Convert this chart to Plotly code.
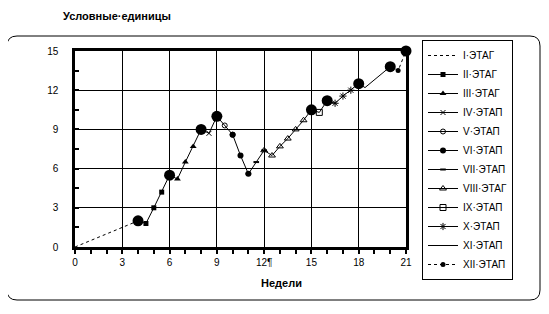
import plotly.graph_objects as go

# ---------------- data ----------------
stage_names = ["I·ЭТАГ", "II·ЭТАГ", "III·ЭТАГ", "IV·ЭТАП", "V·ЭТАП", "VI·ЭТАП",
               "VII·ЭТАП", "VIII·ЭТАГ", "IX·ЭТАП", "X·ЭТАП", "XI·ЭТАП", "XII·ЭТАП"]

s1_x = [0, 4];                      s1_y = [0, 2]
s2_x = [4, 4.5, 5, 5.5, 6];         s2_y = [2, 1.8, 3, 4.2, 5.5]
s3_x = [6, 6.5, 7, 7.5, 8];         s3_y = [5.5, 5.2, 6.5, 7.7, 9]
s4_x = [8, 8.5, 9];                 s4_y = [9, 8.7, 10]
s5_x = [9, 9.5, 10];                s5_y = [10, 9.3, 8.6]
s6_x = [10, 10.5, 11];              s6_y = [8.6, 7.0, 5.6]
s7_x = [11, 11.5, 12];              s7_y = [5.6, 6.5, 7.4]
s8_x = [12, 12.5, 13, 13.5, 14, 14.5, 15]
s8_y = [7.4, 7.0, 7.7, 8.3, 9.0, 9.7, 10.5]
s9_x = [15, 15.5, 16];              s9_y = [10.5, 10.3, 11.2]
s10_x = [16, 16.5, 17, 17.5, 18];   s10_y = [11.2, 11.0, 11.55, 12.0, 12.5]
s11_x = [18, 18.4, 20];             s11_y = [12.5, 12.2, 13.8]
s12_x = [20, 20.5, 21];             s12_y = [13.8, 13.5, 15]

milestone_x = [4, 6, 8, 9, 15, 16, 18, 20, 21]
milestone_y = [2, 5.5, 9, 10, 10.5, 11.2, 12.5, 13.8, 15]

x_tick_vals = [0, 3, 6, 9, 12, 15, 18, 21]
x_tick_text = ["0", "3", "6", "9", "12¶", "15", "18", "21"]
y_tick_vals = [0, 3, 6, 9, 12, 15]

# ---------------- styles ----------------
series = [
    (s1_x, s1_y, dict(dash="dot"), None),
    (s2_x, s2_y, dict(), dict(symbol="square", size=5)),
    (s3_x, s3_y, dict(), dict(symbol="triangle-up", size=6)),
    (s4_x, s4_y, dict(), dict(symbol="x-thin-open", size=5, line=dict(width=1, color="#333"))),
    (s5_x, s5_y, dict(), dict(symbol="circle-open", size=5, line=dict(width=1, color="#555"))),
    (s6_x, s6_y, dict(), dict(symbol="circle", size=6)),
    (s7_x, s7_y, dict(), dict(symbol="line-ew-open", size=4, line=dict(width=2, color="black"))),
    (s8_x, s8_y, dict(), dict(symbol="triangle-up-open", size=6, line=dict(width=1, color="black"))),
    (s9_x, s9_y, dict(), dict(symbol="square-open", size=6, line=dict(width=1, color="black"))),
    (s10_x, s10_y, dict(), dict(symbol="asterisk-open", size=6, line=dict(width=1, color="black"))),
    (s11_x, s11_y, dict(), None),
    (s12_x, s12_y, dict(dash="dot"), dict(symbol="circle", size=5)),
]

fig = go.Figure()
for name, (xs, ys, ldash, mk) in zip(stage_names, series):
    line = dict(color="black", width=1, **ldash)
    if mk is None:
        fig.add_trace(go.Scatter(x=xs, y=ys, name=name, mode="lines", line=line))
    else:
        m = dict(color="black")
        m.update(mk)
        fig.add_trace(go.Scatter(x=xs, y=ys, name=name, mode="lines+markers", line=line,
                                 marker=m, cliponaxis=False))

fig.add_trace(go.Scatter(x=milestone_x, y=milestone_y, mode="markers", showlegend=False,
                         marker=dict(symbol="circle", size=11, color="black"),
                         cliponaxis=False))

# ---------------- layout ----------------
# the page body has an 8px default margin, so the figure is sized to compensate
OFF = 8
W, H = 549 - OFF, 314 - OFF
ML, MT = 75 - OFF, 51 - OFF
MR = W - (406 - OFF)
MB = H - (247 - OFF)
PW, PH = W - ML - MR, H - MT - MB


def px(xp):
    return (xp - OFF - ML) / PW


def py(yp):
    return (H - MB - (yp - OFF)) / PH


# rounded outer frame
x0, x1, y0, y1, r = 7, 540, 36, 300, 10
path = (f"M {px(x0 + r)},{py(y0)} L {px(x1 - r)},{py(y0)} "
        f"Q {px(x1)},{py(y0)} {px(x1)},{py(y0 + r)} "
        f"L {px(x1)},{py(y1 - r)} Q {px(x1)},{py(y1)} {px(x1 - r)},{py(y1)} "
        f"L {px(x0 + r)},{py(y1)} Q {px(x0)},{py(y1)} {px(x0)},{py(y1 - r)} "
        f"L {px(x0)},{py(y0 + r)} Q {px(x0)},{py(y0)} {px(x0 + r)},{py(y0)} Z")

fig.update_layout(
    width=W, height=H,
    margin=dict(l=ML, r=MR, t=MT, b=MB),
    paper_bgcolor="white", plot_bgcolor="white",
    font=dict(family="Liberation Sans, Arial, sans-serif", size=10, color="black"),
    showlegend=True,
    legend=dict(x=px(422), y=py(40), xanchor="left", yanchor="top",
                bordercolor="black", borderwidth=1, bgcolor="white",
                font=dict(size=10), tracegroupgap=0, maxheight=300,
                itemwidth=30),
    shapes=[dict(type="path", xref="paper", yref="paper", path=path,
                 line=dict(color="black", width=1), layer="below")],
    annotations=[
        dict(text="<b>Условные·единицы</b>", xref="paper", yref="paper",
             x=px(61), y=py(16), xanchor="left", yanchor="middle",
             showarrow=False, font=dict(size=11)),
        dict(text="<b>Недели</b>", xref="paper", yref="paper",
             x=px(281), y=py(283), xanchor="center", yanchor="middle",
             showarrow=False, font=dict(size=11)),
    ],
)

fig.update_xaxes(range=[0, 21], tickvals=x_tick_vals, ticktext=x_tick_text,
                 showgrid=True, gridcolor="black", gridwidth=1,
                 showline=True, linecolor="black", linewidth=2.5, mirror=True,
                 ticks="outside", ticklen=4, tickwidth=1.5, tickcolor="black",
                 minor=dict(dtick=1, tick0=0, ticks="outside", ticklen=4, tickwidth=1.5,
                            tickcolor="black", showgrid=False),
                 zeroline=False, fixedrange=True)
fig.update_yaxes(range=[0, 15], tickvals=y_tick_vals,
                 showgrid=True, gridcolor="black", gridwidth=1,
                 showline=True, linecolor="black", linewidth=2.5, mirror=True,
                 ticks="inside", ticklen=4, tickwidth=1.5, tickcolor="black",
                 ticklabelstandoff=12,
                 minor=dict(dtick=1.5, tick0=0, ticks="inside", ticklen=4, tickwidth=1.5,
                            tickcolor="black", showgrid=False),
                 zeroline=False, fixedrange=True)

fig.write_html("out.html")
